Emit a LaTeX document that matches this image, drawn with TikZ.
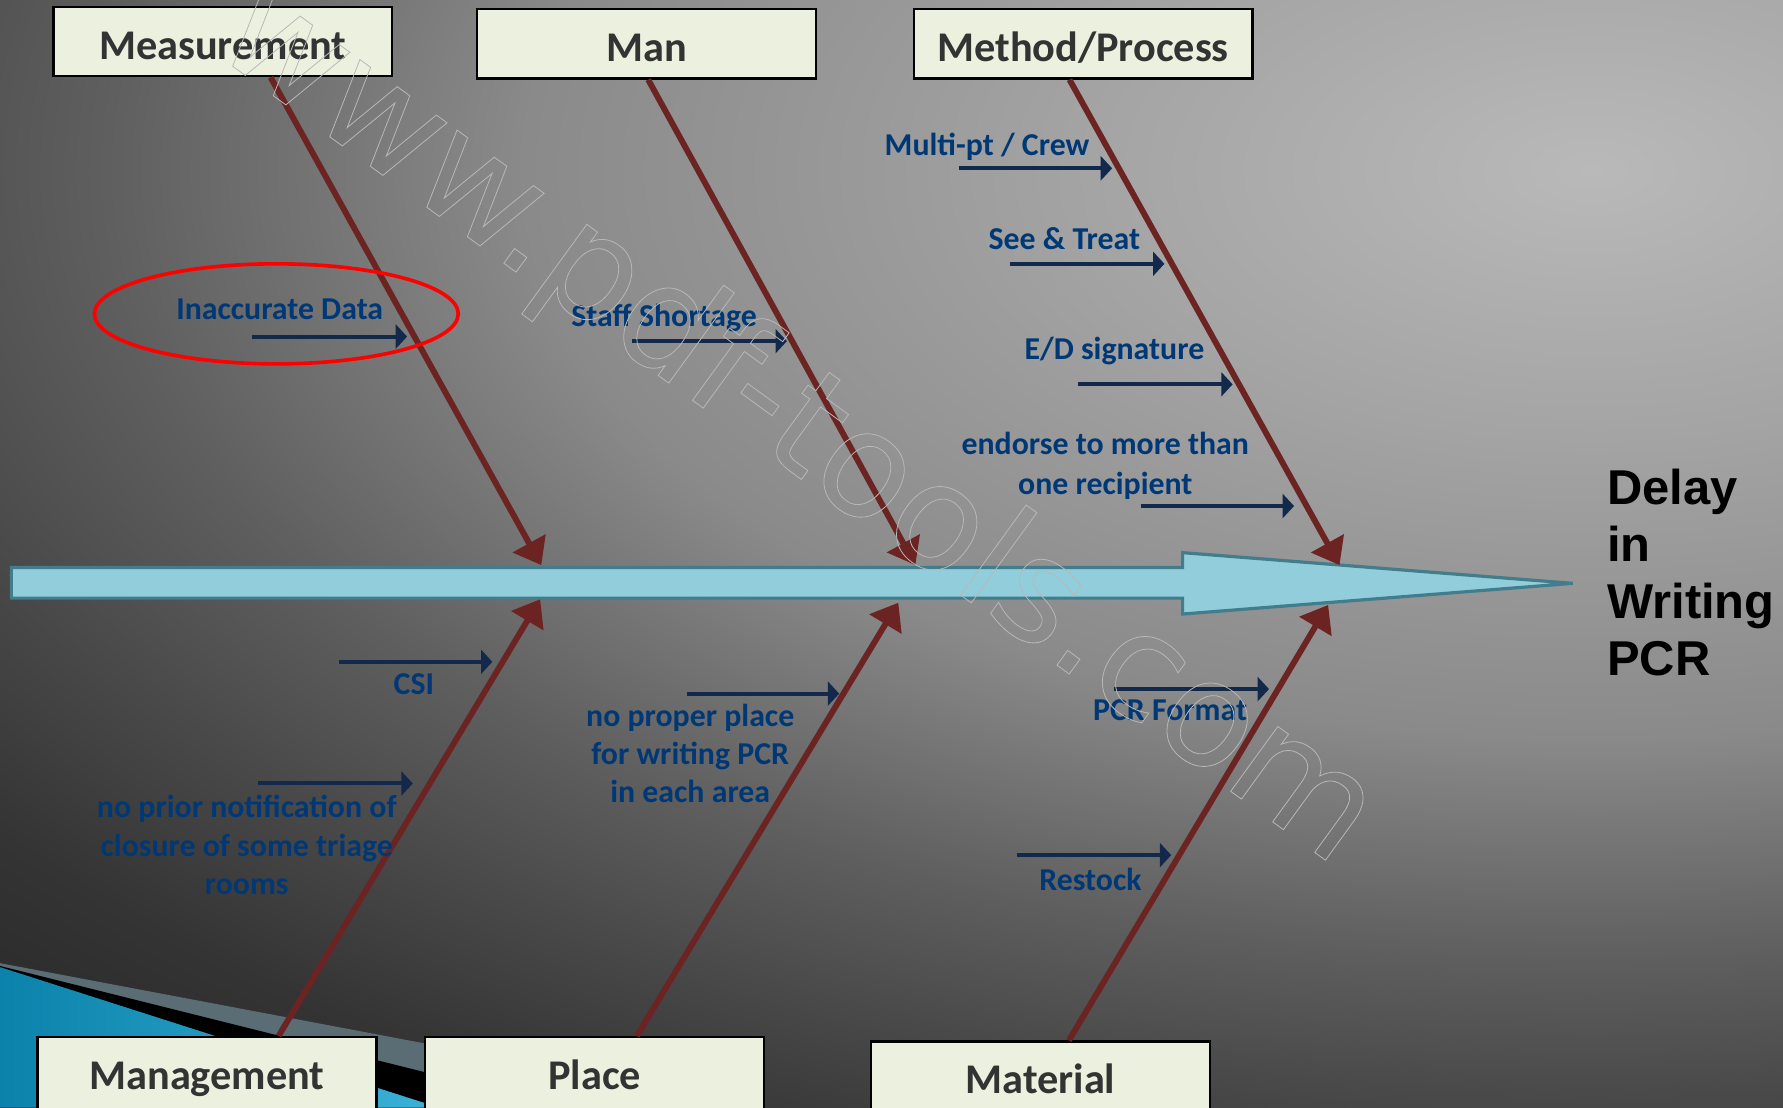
\documentclass[tikz,border=0pt]{standalone}
\usepackage{fontspec}
\setmainfont{Carlito}
\newfontfamily\arialfont{Liberation Sans}
\newfontfamily\wmfont{DejaVu Sans}
\usetikzlibrary{arrows.meta,shapes.geometric}
\definecolor{bg0}{RGB}{185,185,185}
\definecolor{bg1}{RGB}{165,165,165}
\definecolor{bg2}{RGB}{138,138,138}
\definecolor{bg3}{RGB}{95,95,95}
\definecolor{bg4}{RGB}{74,74,74}
\definecolor{bg5}{RGB}{52,52,52}
\definecolor{bg6}{RGB}{32,32,32}
\definecolor{boxfill}{RGB}{235,241,222}
\definecolor{boxtext}{RGB}{51,51,51}
\definecolor{bone}{RGB}{107,36,34}
\definecolor{navyarr}{RGB}{19,41,75}
\definecolor{navytxt}{RGB}{0,56,118}
\definecolor{spinefill}{RGB}{146,205,220}
\definecolor{spinedraw}{RGB}{65,125,140}
\definecolor{decoblueA}{RGB}{10,130,170}
\definecolor{decoblueB}{RGB}{60,178,218}
\definecolor{decoslate}{RGB}{90,108,116}
\pgfdeclareradialshading{bgshade}{\pgfpoint{0bp}{0bp}}{color(0bp)=(bg0); color(3.1bp)=(bg1); color(6.9bp)=(bg2); color(9.6bp)=(bg3); color(11.25bp)=(bg4); color(13.1bp)=(bg5); color(16.25bp)=(bg6); color(50bp)=(bg6)}
\begin{document}
\begin{tikzpicture}[x=0.5pt,y=-0.5pt,
  catbox/.style={draw=black, line width=1pt, fill=boxfill, minimum width=149pt, minimum height=30.5pt, inner sep=0pt,
    font=\fontsize{18.6}{22}\selectfont\bfseries, text=boxtext, text height=18.5pt, text depth=3pt},
  botbox/.style={catbox, minimum height=34pt, text height=15pt},
  boneline/.style={draw=bone, line width=2.6pt, -{Triangle[length=11pt,width=16pt]}},
  subarr/.style={draw=navyarr, line width=1.75pt, -{Triangle[length=5pt,width=10.5pt]}},
  cause/.style={text=navytxt, font=\fontsize{14}{17}\selectfont\bfseries, inner sep=0pt, anchor=base},
  effect/.style={text=black, font=\arialfont\bfseries\fontsize{21.5}{25}\selectfont, inner sep=0pt, anchor=base west}
  ]
\useasboundingbox (0,0) rectangle (1568,974);
% background
\begin{scope}
  \clip (0,0) rectangle (1568,974);
  \shade[shading=bgshade] (1400,150) ellipse [x radius=3400, y radius=1800];
  \fill[decoslate] (0,847) -- (672,974) -- (0,974) -- cycle;
  \fill[black] (0,849.5) -- (498,974) -- (0,974) -- cycle;
  \shade[left color=decoblueA, right color=decoblueB] (0,850.5) -- (386,974) -- (0,974) -- cycle;
\end{scope}

% spine
\draw[draw=spinedraw, line width=1.4pt, fill=spinefill]
  (10,499) -- (1040,499) -- (1040,486) -- (1383,513) -- (1040,540) -- (1040,526) -- (10,526) -- cycle;

% category boxes
\node[catbox] (meas) at (196,36.5) {Measurement};
\node[catbox] (man) at (568.5,38.5) {Man};
\node[catbox] (meth) at (952.5,38.5) {Method/Process};
\node[botbox] (mgmt) at (182,946) {Management};
\node[botbox] (place) at (523,946) {Place};
\node[botbox] (matl) at (915,950) {Material};

% bone tips on the spine
\coordinate (tMeas) at (476,497);
\coordinate (tMan) at (805,497);
\coordinate (tMeth) at (1178,497);
\coordinate (tMgmt) at (475,527);
\coordinate (tPlace) at (790,530);
\coordinate (tMatl) at (1168,532);

\draw[boneline] ([xshift=21pt]meas.south) -- (tMeas);
\draw[boneline] ([xshift=0.75pt]man.south) -- (tMan);
\draw[boneline] ([xshift=-6pt]meth.south) -- (tMeth);
\draw[boneline] ([xshift=31.5pt]mgmt.north) -- (tMgmt);
\draw[boneline] ([xshift=18.5pt]place.north) -- (tPlace);
\draw[boneline] ([xshift=12.5pt]matl.north) -- (tMatl);

% sub-cause arrows
\coordinate (aMulti) at (843,148);   \coordinate (bMulti) at (978,148);
\coordinate (aSee) at (888,232);     \coordinate (bSee) at (1024,232);
\coordinate (aED) at (948,338);      \coordinate (bED) at (1084,338);
\coordinate (aEnd) at (1003,445);    \coordinate (bEnd) at (1138,445);
\coordinate (aInac) at (222,296);    \coordinate (bInac) at (358,296);
\coordinate (aStaff) at (556,300);   \coordinate (bStaff) at (692,300);
\coordinate (aCSI) at (298,582);     \coordinate (bCSI) at (433,582);
\coordinate (aPrior) at (227,689);   \coordinate (bPrior) at (363,689);
\coordinate (aProper) at (604,610);  \coordinate (bProper) at (738,610);
\coordinate (aPCR) at (980,606);     \coordinate (bPCR) at (1116,606);
\coordinate (aRest) at (894,752);    \coordinate (bRest) at (1030,752);
\foreach \n in {Multi,See,ED,End,Inac,Staff,CSI,Prior,Proper,PCR,Rest}
  \draw[subarr] (a\n) -- (b\n);

% sub-cause labels
\node[cause] (lMulti) at (868,137) {Multi-pt / Crew};
\node[cause] (lSee) at (936,219) {See \& Treat};
\node[cause] (lED) at (980,316) {E/D signature};
\node[cause] (lEndA) at (972,400) {endorse to more than};
\node[cause] (lEndB) at (972,435) {one recipient};
\node[cause] (lInac) at (246,281) {Inaccurate Data};
\node[cause] (lStaff) at (584,287) {Staff Shortage};
\node[cause] (lCSI) at (364,611) {CSI};
\node[cause] (lPriorA) at (217,719) {no prior notification of};
\node[cause] (lPriorB) at (217,753) {closure of some triage};
\node[cause] (lPriorC) at (217,787) {rooms};
\node[cause] (lProperA) at (607,639) {no proper place};
\node[cause] (lProperB) at (607,672) {for writing PCR};
\node[cause] (lProperC) at (607,706) {in each area};
\node[cause] (lPCR) at (1029,634) {PCR Format};
\node[cause] (lRest) at (959,783) {Restock};

% red highlight ellipse
\node[draw=red, line width=1.6pt, ellipse, minimum width=160pt, minimum height=44pt, inner sep=0pt] (hl) at (243,276) {};

% effect
\node[effect] (eff1) at (1413,444) {Delay};
\node[effect] (eff2) at (1413,494) {in};
\node[effect] (eff3) at (1413,544) {Writing};
\node[effect] (eff4) at (1413,594) {PCR};

% watermark (outlined text)
\node[rotate=-36, anchor=base west, inner sep=0pt, font=\wmfont\fontsize{64.5}{64.5}\selectfont] (wm) at (185,44)
  {\special{pdf:literal direct 1 Tr 0.35 w 0.72 G}www.pdf-tools.com\special{pdf:literal direct 0 Tr}};
\end{tikzpicture}
\end{document}
